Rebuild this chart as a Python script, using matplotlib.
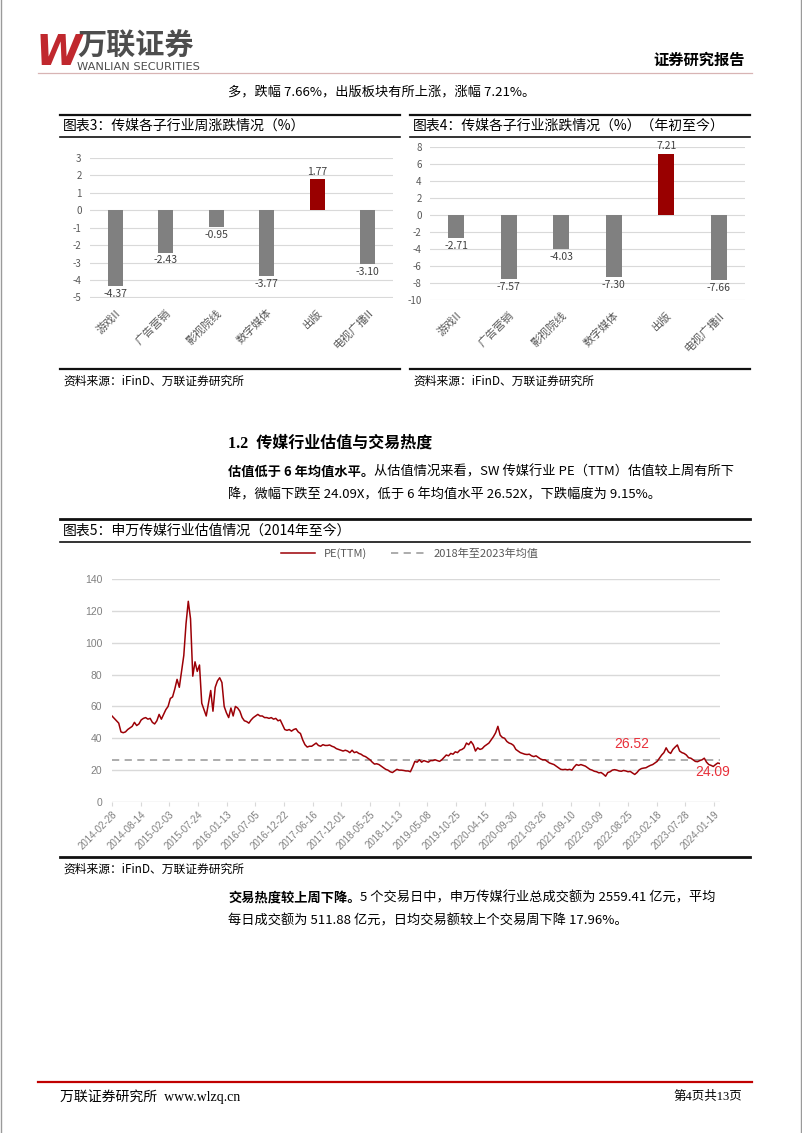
import matplotlib
matplotlib.use('Agg')
import matplotlib.pyplot as plt
from matplotlib.lines import Line2D
from matplotlib.ticker import FormatStrFormatter
import numpy as np

W, H = 802, 1133
CJK = ['Noto Sans CJK SC', 'DejaVu Sans']
SERIF = ['Liberation Serif', 'Noto Sans CJK SC']
NARROW = ['Liberation Sans Narrow', 'Liberation Sans', 'DejaVu Sans']
plt.rcParams['font.family'] = CJK
plt.rcParams['axes.unicode_minus'] = False

# ---------- data ----------
sectors = ['游戏II', '广告营销', '影视院线', '数字媒体', '出版', '电视广播II']
week_chg = [-4.37, -2.43, -0.95, -3.77, 1.77, -3.10]
ytd_chg = [-2.71, -7.57, -4.03, -7.30, 7.21, -7.66]

date_ticks = ['2014-02-28', '2014-08-14', '2015-02-03', '2015-07-24', '2016-01-13',
              '2016-07-05', '2016-12-22', '2017-06-16', '2017-12-01', '2018-05-25',
              '2018-11-13', '2019-05-08', '2019-10-25', '2020-04-15', '2020-09-30',
              '2021-03-26', '2021-09-10', '2022-03-09', '2022-08-25', '2023-02-18',
              '2023-07-28', '2024-01-19']
tick_step = 115     # trading days between date labels
sample_step = 9     # trading days between PE samples

# PE(TTM), every ~9 trading days
pe_ttm = [
    54, 52.5, 51, 49.5, 44, 43.5, 44, 45.5, 46.5, 47.5,
    50, 48, 49, 51.5, 52.5, 53, 52, 52.5, 50, 49,
    51, 55, 52, 55, 58, 60, 65, 66, 71, 77,
    72, 82, 92, 112, 126, 115, 79, 88, 82, 86,
    62, 58, 54, 62, 70, 57, 72, 76, 78, 75,
    60, 56, 53, 59, 54, 60, 59, 57, 53, 51,
    50.5, 49.5, 51.5, 53, 54, 55,
    54, 54, 53, 53, 52.5, 53, 52, 52.5, 51, 51.5,
    48.5, 45.5, 45, 45.5, 44.5, 45.5, 46, 44, 43, 39,
    36, 34.5, 35, 35, 36, 37, 35.5, 35, 36, 35.5,
    35.5, 35.8, 35, 34.5, 33.5, 33, 32.5, 32, 32.5, 32,
    31, 32.5, 31, 31.5, 30.5, 30, 29, 28.5, 27.5, 26.5,
    25, 23.8, 24, 23.5, 22.5, 21.5, 20.5, 20, 19, 18.5,
    19.5, 20.5, 20, 20, 19.8, 19.5, 19.5, 19, 22, 25.5,
    25, 26.5, 25, 26, 25.5, 25, 26, 26, 26.5, 26,
    25.5, 26.5, 28, 29.5, 29, 30.5, 30, 31.5, 31, 32.5,
    33, 34, 37, 36, 38, 36, 32, 34, 33, 33.5,
    35, 36, 37, 39, 41, 43.5, 47.5, 42, 40.5, 40,
    38, 37, 36.5, 35.5, 33, 32, 31, 30.5, 30, 29.8,
    30, 29, 28.5, 29, 28, 27, 26.5, 26.5, 25.5, 24.5,
    24, 23.5, 22.5, 21.5, 20.5, 20.3, 20.5, 20.2, 20.5, 20,
    22, 23.5, 23, 23.5, 23, 22.5, 21.5, 20.5, 20, 19.3,
    19, 18.3, 18.5, 17.5, 16.2, 18.5, 19, 20, 20.3, 20,
    19.5, 19.3, 19.8, 19.5, 19, 19.2, 18.2, 17.3, 18.5, 20.2,
    21, 21.3, 21.5, 22.3, 23, 23.5, 24.5, 25.5, 27.5, 29.5,
    31, 34, 31.5, 30.5, 33, 34.5, 35.8, 32, 31, 30.5,
    29.5, 27.8, 27.5, 26.5, 25.5, 25.3, 26, 26.5, 27.5, 25,
    23.5, 23, 22.3, 23.5, 24.5, 24.09,
]
pe_mean = 26.52

# ---------- page helpers ----------
fig = plt.figure(figsize=(W / 100, H / 100), dpi=100)


def fx(x):
    return x / W


def fy(y):
    return 1 - y / H


def txt(x, y, s, **kw):
    kw.setdefault('va', 'center')
    return fig.text(fx(x), fy(y), s, **kw)


def hline(x1, x2, y, **kw):
    fig.add_artist(Line2D([fx(x1), fx(x2)], [fy(y), fy(y)],
                          transform=fig.transFigure, **kw))


def box(l, t, r, b):
    return fig.add_axes([fx(l), fy(b), (r - l) / W, (b - t) / H])


renderer = fig.canvas.get_renderer()


def bold_lead(x, y, bold, rest, size=9.5):
    t = txt(x, y, bold, fontsize=size, weight='bold')
    bb = t.get_window_extent(renderer=renderer)
    fig.text(bb.x1 / W, fy(y), rest, fontsize=size, va='center')


# page border
fig.add_artist(Line2D([0.001, 0.001], [0, 1], transform=fig.transFigure, color='#9a9a9a', lw=1))
fig.add_artist(Line2D([0.999, 0.999], [0, 1], transform=fig.transFigure, color='#9a9a9a', lw=1))

# ---------- header ----------
txt(36, 53, 'W', fontsize=30, weight='bold', style='italic', color='#c0282e',
    family=['DejaVu Sans'])
txt(77, 46, '万联证券', fontsize=21, weight='bold', color='#4d4d4d')
txt(77, 67.5, 'WANLIAN SECURITIES', fontsize=8.2, color='#4d4d4d', family=['DejaVu Sans'])
txt(745, 60, '证券研究报告', fontsize=11, weight='bold', ha='right')
hline(38, 752, 73, color='#d8b4b4', lw=0.9)

txt(228, 92, '多，跌幅 7.66%，出版板块有所上涨，涨幅 7.21%。', fontsize=9.5)


# ---------- bar charts ----------
def bar_chart(ax, vals, lo, hi, step):
    x = np.arange(len(vals))
    cols = ['#990000' if v > 0 else '#808080' for v in vals]
    ax.bar(x, vals, width=0.3, color=cols, zorder=2)
    ax.set_xlim(-0.5, len(vals) - 0.5)
    ax.set_ylim(lo - 0.02 * step, hi + 0.02 * step)
    ax.set_yticks(np.arange(lo, hi + 0.1, step))
    ax.yaxis.set_major_formatter(FormatStrFormatter('%d'))
    ax.grid(axis='y', color='#d9d9d9', lw=0.8, zorder=0)
    for s in ax.spines.values():
        s.set_visible(False)
    ax.tick_params(axis='y', length=0, labelsize=7, colors='#595959', pad=6)
    ax.tick_params(axis='x', length=0, colors='#595959', pad=7)
    ax.set_xticks(x)
    ax.set_xticklabels(sectors, rotation=45, ha='right', rotation_mode='anchor', fontsize=8)
    for xi, v in zip(x, vals):
        if v > 0:
            ax.annotate(f'{v:.2f}', (xi, v), xytext=(0, 2), textcoords='offset points',
                        ha='center', va='bottom', fontsize=7.5, color='#404040')
        else:
            ax.annotate(f'{v:.2f}', (xi, v), xytext=(0, -2), textcoords='offset points',
                        ha='center', va='top', fontsize=7.5, color='#404040')


for x1, x2, title in [(60, 400, '图表3：传媒各子行业周涨跌情况（%）'),
                      (410, 750, '图表4：传媒各子行业涨跌情况（%）（年初至今）')]:
    hline(x1, x2, 115, color='#111111', lw=1.6)
    hline(x1, x2, 137, color='#111111', lw=1.2)
    txt(x1 + 3, 126, title, fontsize=10)
    hline(x1, x2, 369, color='#111111', lw=1.6)
    txt(x1 + 3, 381, '资料来源：iFinD、万联证券研究所', fontsize=8.5)

ax3 = box(90, 157.7, 393, 297.7)
bar_chart(ax3, week_chg, -5, 3, 1)

ax4 = box(430, 146.7, 745, 300)
bar_chart(ax4, ytd_chg, -10, 8, 2)

# ---------- section text ----------
txt(228, 444, '1.2  传媒行业估值与交易热度', fontsize=11.5, weight='bold', family=SERIF)
bold_lead(228, 472, '估值低于 6 年均值水平。',
          '从估值情况来看，SW 传媒行业 PE（TTM）估值较上周有所下')
txt(228, 495, '降，微幅下跌至 24.09X，低于 6 年均值水平 26.52X，下跌幅度为 9.15%。', fontsize=9.5)

# ---------- PE chart ----------
hline(60, 750, 519, color='#111111', lw=2)
txt(63, 531, '图表5：申万传媒行业估值情况（2014年至今）', fontsize=10)
hline(60, 750, 542, color='#111111', lw=1.2)

ax5 = box(112, 579, 720, 802)
xs = np.arange(len(pe_ttm)) * sample_step
ax5.plot(xs, pe_ttm, color='#9c0006', lw=1.1, label='PE(TTM)', zorder=3)
ax5.axhline(pe_mean, color='#a6a6a6', lw=1.3, ls=(0, (4, 3)),
            label='2018年至2023年均值', zorder=2)
ax5.set_xlim(0, xs[-1])
ax5.set_ylim(0, 140)
ax5.set_yticks(range(0, 141, 20))
ax5.grid(axis='y', color='#d9d9d9', lw=1, zorder=0)
for s in ax5.spines.values():
    s.set_visible(False)
ax5.set_xticks(np.arange(len(date_ticks)) * tick_step)
ax5.set_xticklabels(date_ticks, rotation=45, ha='right', rotation_mode='anchor',
                    fontsize=7, family=NARROW)
for lab in ax5.get_yticklabels():
    lab.set_family(NARROW)
ax5.tick_params(axis='y', length=0, labelsize=7.5, colors='#808080', pad=7)
ax5.tick_params(axis='x', length=3, color='#d9d9d9', labelcolor='#808080', pad=2)

ax5.annotate(f'{pe_mean:.2f}', (xs[-1] * 0.855, pe_mean), xytext=(0, 6),
             textcoords='offset points', ha='center', va='bottom',
             fontsize=10, color='#e8303a', family=NARROW)
ax5.annotate(f'{pe_ttm[-1]:.2f}', (xs[-1], pe_ttm[-1]), xytext=(-5, -1),
             textcoords='offset points', ha='center', va='top',
             fontsize=10, color='#e8303a', family=NARROW)

ax5.legend(loc='lower center', bbox_to_anchor=(fx(410), fy(569)),
           bbox_transform=fig.transFigure, ncol=2, frameon=False, fontsize=8,
           handlelength=3, columnspacing=2.2, labelcolor='#595959')

hline(60, 750, 857, color='#111111', lw=2)
txt(63, 869, '资料来源：iFinD、万联证券研究所', fontsize=8.5)

bold_lead(228, 898, '交易热度较上周下降。',
          '5 个交易日中，申万传媒行业总成交额为 2559.41 亿元，平均')
txt(228, 921, '每日成交额为 511.88 亿元，日均交易额较上个交易周下降 17.96%。', fontsize=9.5)

# ---------- footer ----------
hline(38, 752, 1082, color='#c00000', lw=1.6)
txt(60, 1097, '万联证券研究所  www.wlzq.cn', fontsize=10, family=SERIF)
txt(742, 1097, '第4页共13页', fontsize=9, family=SERIF, ha='right')

fig.savefig('out.png', dpi=100)
